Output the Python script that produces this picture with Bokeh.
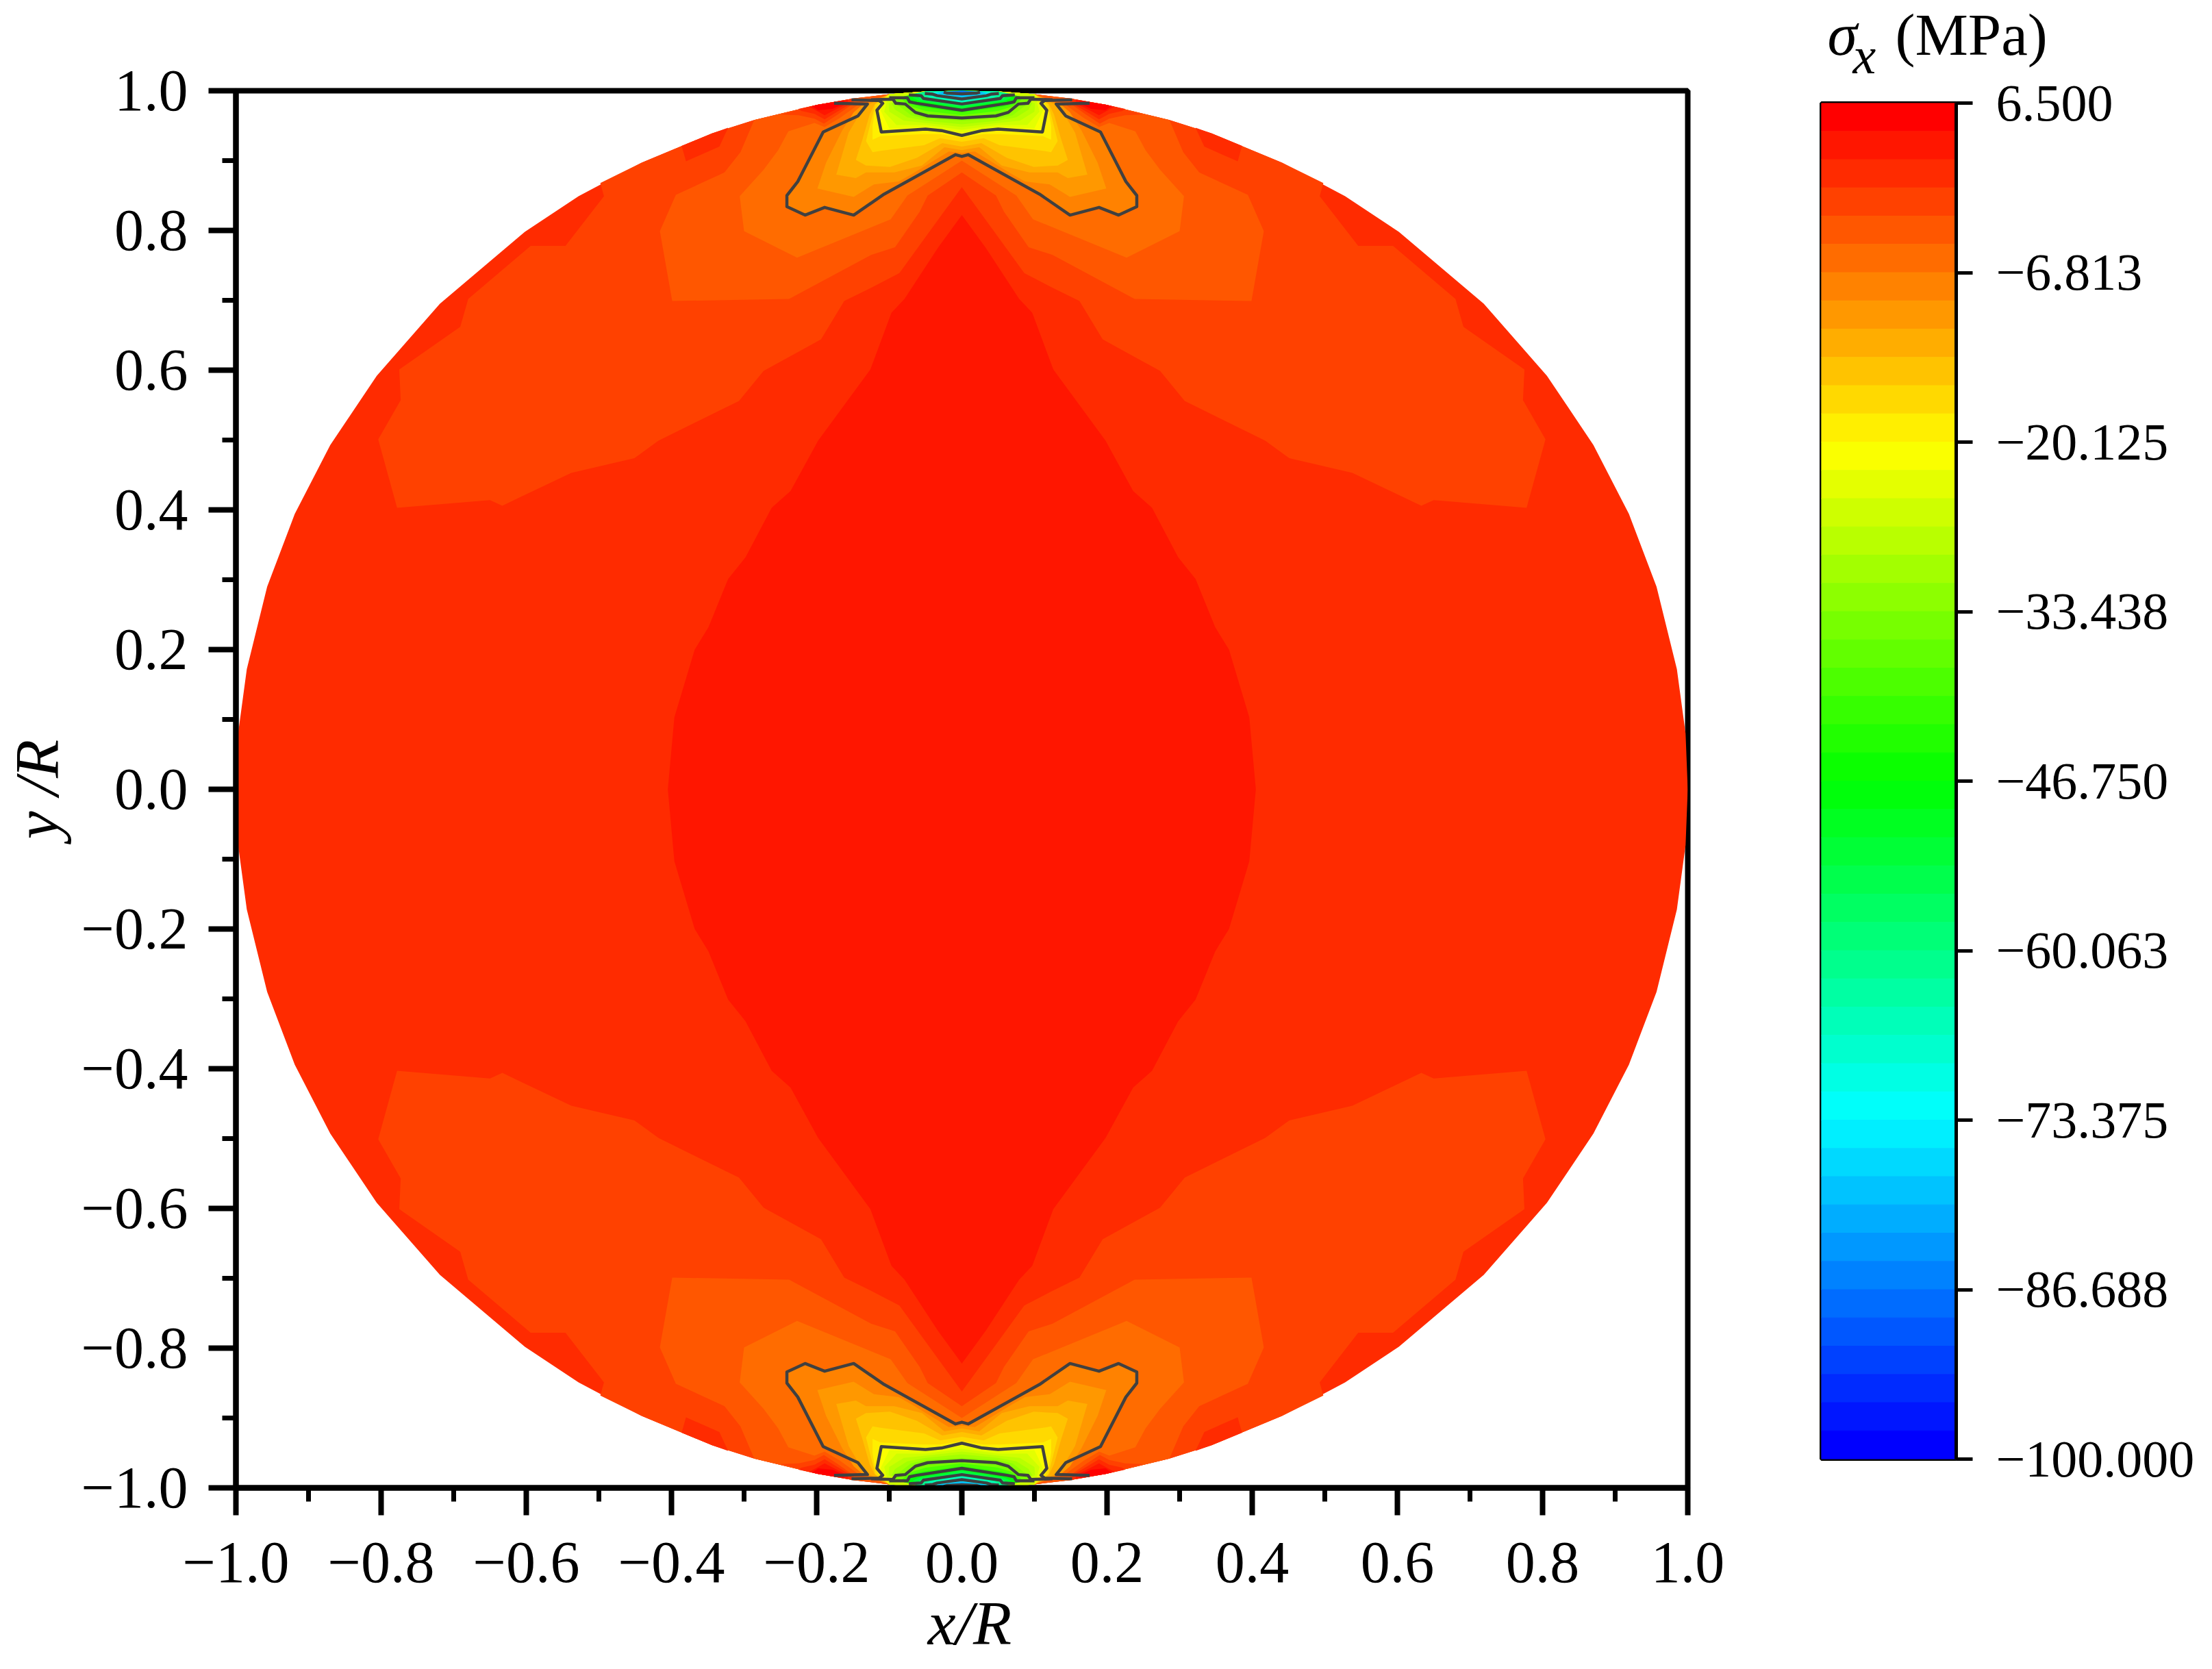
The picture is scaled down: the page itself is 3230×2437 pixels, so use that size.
from bokeh.embed import file_html
from bokeh.layouts import column, row
from bokeh.models import FixedTicker, Label, Range1d
from bokeh.plotting import figure
from bokeh.resources import INLINE

FONT = "Liberation Serif"

major_ticks = [-1.0, -0.8, -0.6, -0.4, -0.2, 0.0, 0.2, 0.4, 0.6, 0.8, 1.0]
minor_ticks = [-0.9, -0.7, -0.5, -0.3, -0.1, 0.1, 0.3, 0.5, 0.7, 0.9]
tick_labels = {-1.0: "\u22121.0", -0.8: "\u22120.8", -0.6: "\u22120.6", -0.4: "\u22120.4", -0.2: "\u22120.2",
               0.0: "0.0", 0.2: "0.2", 0.4: "0.4", 0.6: "0.6", 0.8: "0.8", 1.0: "1.0"}

# colour scale
levels = [6.5, 4.281, 2.063, -0.156, -2.375, -4.594, -6.813, -9.031, -11.25, -13.469, -15.688, -17.906,
          -20.125, -22.344, -24.563, -26.781, -29.0, -31.219, -33.438, -35.656, -37.875, -40.094, -42.313, -44.531,
          -46.75, -48.969, -51.188, -53.406, -55.625, -57.844, -60.063, -62.281, -64.5, -66.719, -68.938, -71.156,
          -73.375, -75.594, -77.813, -80.031, -82.25, -84.469, -86.688, -88.906, -91.125, -93.344, -95.563, -97.781, -100.0]
palette = ["#ff0000", "#ff1600", "#ff2b00", "#ff4100", "#ff5700", "#ff6c00", "#ff8200", "#ff9800",
           "#ffad00", "#ffc300", "#ffd900", "#ffef00", "#faff00", "#e4ff00", "#ceff00", "#b9ff00",
           "#a3ff00", "#8dff00", "#77ff00", "#62ff00", "#4cff00", "#36ff00", "#21ff00", "#0bff00",
           "#00ff0b", "#00ff21", "#00ff36", "#00ff4c", "#00ff62", "#00ff77", "#00ff8d", "#00ffa3",
           "#00ffb9", "#00ffce", "#00ffe4", "#00fffa", "#00efff", "#00d9ff", "#00c3ff", "#00adff",
           "#0098ff", "#0082ff", "#006cff", "#0057ff", "#0041ff", "#002bff", "#0016ff", "#0000ff"]
bar_ticks = [6.5, -6.813, -20.125, -33.438, -46.75, -60.063, -73.375, -86.688, -100.0]
bar_labels = {6.5: "6.500", -6.813: "\u22126.813", -20.125: "\u221220.125", -33.438: "\u221233.438",
              -46.75: "\u221246.750", -60.063: "\u221260.063", -73.375: "\u221273.375", -86.688: "\u221286.688",
              -100.0: "\u2212100.000"}

# disc edge, first quadrant
rim_x = [0.0, 0.05, 0.10, 0.149, 0.199, 0.286, 0.344, 0.441, 0.528, 0.602, 0.719, 0.806, 0.870, 0.919, 0.957, 0.985, 0.997, 1.0]
rim_y = [1.0, 0.999, 0.995, 0.989, 0.980, 0.958, 0.939, 0.897, 0.849, 0.798, 0.695, 0.592, 0.493, 0.394, 0.290, 0.172, 0.080, 0.0]

# centre lens, first quadrant
lens = [(0, .822), (.033, .775), (.079, .702), (.097, .682), (.126, .601), (.157, .557), (.198, .499), (.236, .427),
        (.262, .403), (.298, .332), (.322, .301), (.349, .232), (.368, .200), (.396, .103), (.405, 0)]

# bands round the loaded points, right half, from the axis to the rim
band_3 = [(0, .862), (.033, .815), (.086, .739), (.125, .718), (.162, .699), (.194, .644), (.273, .599), (.307, .556),
          (.418, .499), (.451, .474), (.538, .453), (.633, .406), (.650, .414), (.778, .403), (.804, .501), (.773, .557),
          (.775, .601), (.691, .662), (.680, .702), (.594, .778), (.546, .778), (.493, .849), (.498, .868)]
band_4 = [(0, .883), (.047, .850), (.058, .827), (.092, .776), (.125, .765), (.238, .702), (.399, .699), (.416, .799),
          (.394, .851), (.327, .883), (.305, .912), (.286, .958)]
band_5 = [(0, .900), (.075, .850), (.098, .816), (.227, .761), (.300, .799), (.306, .849), (.273, .887), (.253, .915),
          (.239, .942), (.203, .954), (.189, .948), (.168, .961), (.140, .982)]
band_7 = [(0, .911), (.018, .913), (.065, .883), (.087, .870), (.121, .866), (.149, .848), (.199, .860), (.187, .897),
          (.165, .943), (.149, .969), (.138, .979)]
band_8 = [(0, .915), (.024, .919), (.055, .893), (.093, .883), (.132, .883), (.146, .875), (.173, .880), (.156, .940), (.135, .977)]
band_9 = [(0, .920), (.027, .925), (.062, .904), (.099, .891), (.132, .893), (.146, .901), (.137, .930), (.127, .966), (.120, .981)]
band_10 = [(0, .927), (.030, .932), (.052, .922), (.112, .914), (.123, .912), (.132, .928), (.126, .953), (.119, .981)]
band_11 = [(0, .933), (.030, .938), (.052, .938), (.112, .935), (.123, .930), (.123, .950), (.120, .969), (.115, .981)]
band_13 = [(0, .940), (.05, .948), (.100, .946), (.112, .972), (.107, .982)]
band_14 = [(0, .944), (.05, .951), (.090, .951), (.107, .970), (.104, .982)]
band_15 = [(0, .948), (.05, .954), (.080, .957), (.100, .970), (.101, .982)]
band_16 = [(0, .952), (.05, .957), (.075, .962), (.092, .973), (.097, .982)]
band_17 = [(0, .957), (.05, .960), (.070, .965), (.085, .977), (.094, .982)]
band_20 = [(0, .965), (.050, .971), (.068, .977), (.077, .983), (.085, .990)]
band_22 = [(0, .969), (.055, .977), (.070, .981), (.076, .986), (.08, .992)]
band_26 = [(0, .975), (.058, .985), (.068, .990)]
band_28 = [(0, .978), (.055, .987), (.062, .992)]
band_32 = [(0, .983), (.045, .991), (.052, .995)]
band_34 = [(0, .986), (.04, .993), (.045, .996)]
band_38 = [(0, .991), (.03, .995), (.035, .997)]
band_40 = [(0, .993), (.02, .996), (.03, .998)]

# contour lines, right half, levels -6.813 down to -86.688
contour_1 = [(0, .906), (.0087, .9085), (.107, .852), (.149, .822), (.189, .833), (.216, .822), (.241, .834), (.241, .850),
             (.226, .870), (.191, .941), (.143, .964), (.130, .981), (.176, .982)]
contour_2 = [(0, .936), (.028, .943), (.05, .945), (.111, .941), (.117, .972), (.109, .982), (.114, .986), (.152, .987)]
contour_3 = [(0, .961), (.047, .964), (.064, .969), (.078, .981), (.091, .982), (.095, .988), (.125, .987)]
contour_4 = [(0, .972), (.062, .982), (.072, .984), (.075, .990), (.10, .990)]
contour_5 = [(0, .981), (.053, .989), (.056, .993), (.073, .994)]
contour_6 = [(0, .9883), (.034, .993), (.04, .995), (.051, .996)]
contour_7 = [(0, .9955), (.02, .9965), (.025, .998)]

# small patches on the rim, first quadrant, closed
rim_patch_2b = [(.322, .947), (.334, .920), (.380, .899), (.386, .921), (.344, .939)]
rim_patch_3 = [(.149, .982), (.171, .966), (.190, .953), (.203, .960), (.225, .965), (.250, .966), (.199, .980), (.149, .989)]
rim_patch_2 = [(.152, .982), (.173, .969), (.189, .959), (.203, .967), (.221, .971), (.225, .974), (.199, .980), (.152, .988)]
rim_patch_1 = [(.157, .982), (.174, .973), (.189, .965), (.203, .973), (.21, .977), (.199, .980), (.157, .987)]
rim_patch_0 = [(.162, .982), (.178, .974), (.198, .972), (.206, .978), (.199, .980), (.162, .986)]


def with_cap(pts):
    cap = [(x, y) for x, y in zip(rim_x, rim_y) if x < pts[-1][0] - 0.001]
    return pts + cap[::-1]


def mirrored(pts, sy=1):
    xs = [q[0] for q in pts]
    ys = [sy * q[1] for q in pts]
    return xs + [-x for x in reversed(xs)], ys + list(reversed(ys))


def four_way(pts):
    out = []
    for sx, sy in [(1, 1), (-1, 1), (1, -1), (-1, -1)]:
        out.append(([sx * q[0] for q in pts], [sy * q[1] for q in pts]))
    return out


patch_x, patch_y, patch_c = [], [], []


def add(xs, ys, idx):
    patch_x.append(xs)
    patch_y.append(ys)
    patch_c.append(palette[idx])


def add_quadrants(pts, idx):
    top_x, top_y = mirrored(pts)
    low_x, low_y = mirrored(pts, -1)
    add(top_x + low_x[::-1], top_y + low_y[::-1], idx)


# whole disc, then lens
add_quadrants(list(zip(rim_x, rim_y)), 2)
add_quadrants(lens, 1)

# top and bottom bands in painting order
for pts, idx in [(band_3, 3), (band_4, 4), (band_5, 5)]:
    for sy in (1, -1):
        xs, ys = mirrored(with_cap(pts), sy)
        add(xs, ys, idx)

for pts, idx in [(rim_patch_2b, 2), (rim_patch_3, 3), (rim_patch_2, 2), (rim_patch_1, 1), (rim_patch_0, 0)]:
    for xs, ys in four_way(pts):
        add(xs, ys, idx)

filled = [(contour_1[:-1], 6), (band_7, 7), (band_8, 8), (band_9, 9), (band_10, 10), (band_11, 11), (contour_2[:-2], 12),
          (band_13, 13), (band_14, 14), (band_15, 15), (band_16, 16), (band_17, 17), (contour_3[:-1], 18),
          (band_20, 20), (band_22, 22), (contour_4[:-1], 24), (band_26, 26), (band_28, 28), (contour_5, 30),
          (band_32, 32), (band_34, 34), (contour_6, 36), (band_38, 38), (band_40, 40), (contour_7, 42)]
for pts, idx in filled:
    for sy in (1, -1):
        xs, ys = mirrored(with_cap(pts), sy)
        add(xs, ys, idx)

line_x, line_y = [], []
for c in [contour_1, contour_2, contour_3, contour_4, contour_5, contour_6, contour_7]:
    for sy in (1, -1):
        xs = [-q[0] for q in reversed(c)] + [q[0] for q in c]
        ys = [sy * q[1] for q in reversed(c)] + [sy * q[1] for q in c]
        line_x.append(xs)
        line_y.append(ys)

p = figure(width=2560, height=2429, x_range=Range1d(-1, 1), y_range=Range1d(-1, 1),
           toolbar_location=None, output_backend="svg",
           min_border_left=336, min_border_right=96, min_border_top=132, min_border_bottom=257)
p.patches(patch_x, patch_y, fill_color=patch_c, line_color=None)
p.multi_line(line_x, line_y, line_color="#404040", line_width=4.5, line_join="round")

p.xgrid.visible = False
p.ygrid.visible = False
p.outline_line_color = "black"
p.outline_line_width = 8
p.xaxis.axis_label = "\u00a0x/R"
p.yaxis.axis_label = "y /R"
for ax in (p.xaxis[0], p.yaxis[0]):
    ax.ticker = FixedTicker(ticks=major_ticks, minor_ticks=minor_ticks)
    ax.major_label_overrides = tick_labels
    ax.major_label_text_font = FONT
    ax.major_label_text_font_size = "86px"
    ax.major_label_text_color = "black"
    ax.axis_label_text_font = FONT
    ax.axis_label_text_font_size = "92px"
    ax.axis_label_text_font_style = "italic"
    ax.axis_label_text_color = "black"
    ax.axis_line_width = 8
    ax.axis_line_color = "black"
    ax.major_tick_line_width = 8
    ax.major_tick_line_color = "black"
    ax.minor_tick_line_width = 7
    ax.minor_tick_line_color = "black"
    ax.major_tick_in = 0
    ax.major_tick_out = 40
    ax.minor_tick_in = 0
    ax.minor_tick_out = 20
p.xaxis.major_label_standoff = 40
p.yaxis.major_label_standoff = 30
p.xaxis.axis_label_standoff = 6
p.yaxis.axis_label_standoff = 10

# strip above the colour bar, holds only the scale title
strip = figure(width=654, height=115, x_range=Range1d(2568, 3222), y_range=Range1d(115, 0),
               x_axis_location=None, y_axis_location=None, toolbar_location=None, output_backend="svg",
               min_border=0)
strip.outline_line_color = None
strip.grid.visible = False
strip.add_layout(Label(x=2676, y=50, text="\u03c3", text_font=FONT, text_font_style="italic",
                       text_font_size="88px", text_color="black", text_baseline="alphabetic"))
strip.add_layout(Label(x=2713, y=80, text="x", text_font=FONT, text_font_style="italic",
                       text_font_size="76px", text_color="black", text_baseline="alphabetic"))
strip.add_layout(Label(x=2775, y=50, text="(MPa)", text_font=FONT,
                       text_font_size="87px", text_color="black", text_baseline="alphabetic"))

cb = figure(width=654, height=2314, x_range=Range1d(0, 1), y_range=Range1d(-100, 6.5),
            y_axis_location="right", toolbar_location=None, output_backend="svg",
            min_border_left=99, min_border_right=358, min_border_top=35, min_border_bottom=299)
cb.quad(left=0, right=1, top=levels[:-1], bottom=levels[1:], fill_color=palette, line_color=palette, line_width=1)
cb.xaxis.visible = False
cb.xgrid.visible = False
cb.ygrid.visible = False
cb.outline_line_color = "black"
cb.outline_line_width = 5
cb.yaxis.ticker = FixedTicker(ticks=bar_ticks)
cb.yaxis.major_label_overrides = bar_labels
cb.yaxis.major_label_text_font = FONT
cb.yaxis.major_label_text_font_size = "76px"
cb.yaxis.major_label_text_color = "black"
cb.yaxis.major_label_standoff = 34
cb.yaxis.axis_line_width = 5
cb.yaxis.axis_line_color = "black"
cb.yaxis.major_tick_line_width = 5
cb.yaxis.major_tick_line_color = "black"
cb.yaxis.major_tick_in = 0
cb.yaxis.major_tick_out = 24
cb.yaxis.minor_tick_line_color = None

layout = row(p, column(row(strip), cb))
open("out.html", "w").write(file_html(layout, INLINE))
